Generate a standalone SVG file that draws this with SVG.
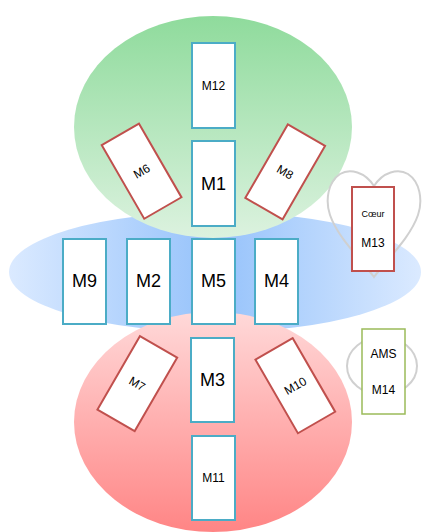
<svg xmlns="http://www.w3.org/2000/svg" width="428" height="532" viewBox="0 0 428 532">
<defs>
<linearGradient id="gGreen" x1="0" y1="0" x2="0" y2="1">
<stop offset="0" stop-color="#8fdb9c"/><stop offset="1" stop-color="#dcf2df"/>
</linearGradient>
<linearGradient id="gBlue" x1="0" y1="0" x2="1" y2="0">
<stop offset="0" stop-color="#dbeaff"/><stop offset="0.5" stop-color="#95c2fb"/><stop offset="1" stop-color="#dbeaff"/>
</linearGradient>
<linearGradient id="gRed" x1="0" y1="0" x2="0" y2="1">
<stop offset="0" stop-color="#ffd9d9"/><stop offset="1" stop-color="#ff8585"/>
</linearGradient>
</defs>
<style>
.b{fill:#fff;stroke:#4bacc6;stroke-width:2}
.r{fill:#fff;stroke:#c0504d;stroke-width:2}
.g{fill:#fff;stroke:#9bbb59;stroke-width:1.5}
.t{font-family:"Liberation Sans",Arial,sans-serif;text-anchor:middle;fill:#000}
.L{font-size:18px}
.S{font-size:12px}
.shape{fill:none;stroke:#d0d0d0;stroke-width:2}
</style>
<g id="zones">
<ellipse cx="215" cy="272" rx="206" ry="60" fill="url(#gBlue)"/>
<ellipse cx="213" cy="127" rx="139" ry="111" fill="url(#gGreen)"/>
<ellipse cx="213" cy="422" rx="139" ry="110" fill="url(#gRed)"/>
<path class="shape" d="M374,186 C365,172 350,168 340,174 C328,182 325,200 330,215 C338,238 360,258 374,277 C388,258 410,238 418,215 C423,200 420,182 408,174 C398,168 383,172 374,186 Z"/>
<ellipse class="shape" cx="382" cy="366" rx="35" ry="29"/>
</g>
<g id="connectors"></g>
<g id="M12"><rect class="b" x="192" y="43" width="43" height="85"/><text class="t S" x="213.5" y="90">M12</text></g>
<g id="M1"><rect class="b" x="192" y="141" width="43" height="85"/><text class="t L" x="213.5" y="190">M1</text></g>
<g id="M6" transform="rotate(-30 141.6 171.2)"><rect class="r" x="120.1" y="128.7" width="43" height="85"/><text class="t S" x="141.6" y="175.5">M6</text></g>
<g id="M8" transform="rotate(30 285.2 171.9)"><rect class="r" x="263.7" y="129.4" width="43" height="85"/><text class="t S" x="285.2" y="176.2">M8</text></g>
<g id="M9"><rect class="b" x="63" y="239" width="43" height="85"/><text class="t L" x="84.5" y="287">M9</text></g>
<g id="M2"><rect class="b" x="127" y="239" width="43" height="85"/><text class="t L" x="148.5" y="287">M2</text></g>
<g id="M5"><rect class="b" x="192" y="239" width="43" height="85"/><text class="t L" x="213.5" y="287">M5</text></g>
<g id="M4"><rect class="b" x="255" y="239" width="43" height="85"/><text class="t L" x="276.5" y="287">M4</text></g>
<g id="M13"><rect class="r" x="352" y="187" width="42" height="84"/><text class="t" style="font-size:9px" x="373" y="217">Cœur</text><text class="t S" x="373" y="247">M13</text></g>
<g id="M14"><rect class="g" x="362" y="329" width="43" height="85"/><text class="t S" x="383.5" y="358">AMS</text><text class="t S" x="383.5" y="394">M14</text></g>
<g id="M3"><rect class="b" x="191" y="338" width="43" height="84"/><text class="t L" x="212.5" y="386">M3</text></g>
<g id="M7" transform="rotate(30 137.3 383.6)"><rect class="r" x="115.8" y="341.1" width="43" height="85"/><text class="t S" x="137.3" y="387.9">M7</text></g>
<g id="M10" transform="rotate(-30 295.3 385.7)"><rect class="r" x="273.8" y="343.2" width="43" height="85"/><text class="t S" x="295.3" y="390">M10</text></g>
<g id="M11"><rect class="b" x="192" y="436" width="43" height="84"/><text class="t S" x="213.5" y="482">M11</text></g>
</svg>
